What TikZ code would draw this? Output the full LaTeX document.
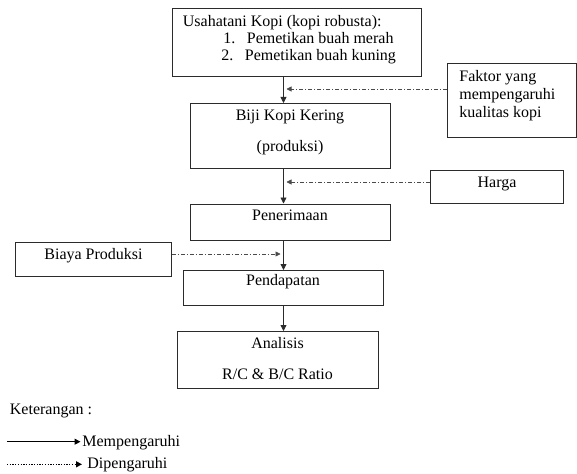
\documentclass[tikz,border=0pt]{standalone}
\usepackage{fontspec}
\setmainfont{Liberation Serif}
\usetikzlibrary{arrows.meta}
\definecolor{figink}{HTML}{2B2B2B}
\definecolor{figdash}{HTML}{4A4A4A}

\begin{document}
\begin{tikzpicture}[
  x=1pt, y=-1pt,
  line width=0.8pt, line join=miter,
  >={Triangle[length=6pt, width=6pt]},
  box/.style  = {draw=figink, line width=0.8pt, rectangle, inner sep=0pt,
                 anchor=north west},
  txt/.style  = {font={\fontsize{16}{17}\selectfont}, inner sep=0pt, text=black},
  dep/.style  = {-{Triangle[length=5pt, width=5pt]}, draw=figdash, line width=0.65pt,
                 dash pattern=on 4pt off 2pt on 1pt off 2pt},
  leg/.style  = {->, draw=black, line width=1.1pt}
]
\useasboundingbox (0,0) rectangle (577,473);

% kotak: kolom utama x=283.5
\node[box, minimum width=249pt, minimum height=68pt]   (usaha)    at (172,8)     {};
\node[box, minimum width=200pt, minimum height=65pt]   (biji)     at (190,103)   {};
\node[box, minimum width=200pt, minimum height=36.5pt] (terima)   at (190,203.5) {};
\node[box, minimum width=200pt, minimum height=35pt]   (dapat)    at (183,270)   {};
\node[box, minimum width=201pt, minimum height=56.5pt] (analisis) at (177,331)   {};
% kotak faktor luar
\node[box, minimum width=129pt, minimum height=74pt]   (faktor)   at (447,63)    {};
\node[box, minimum width=133pt, minimum height=33pt]   (harga)    at (430,170)   {};
\node[box, minimum width=156pt, minimum height=34pt]   (biaya)    at (15,242)    {};

% teks di dalam kotak
\node[txt, anchor=north west, align=left] (usaha-t) at (182.5,15)
  {Usahatani Kopi (kopi robusta):\\
   \hspace*{40.5pt}\makebox[23.5pt][l]{1.}Pemetikan buah merah\\
   \hspace*{38.5pt}\makebox[23.5pt][l]{2.}Pemetikan buah kuning};
\node[txt, anchor=north, align=center] (biji-t) at (290,109.5)
  {Biji Kopi Kering\\[14pt](produksi)};
\node[txt, anchor=base] (terima-t) at (290,220.5) {Penerimaan};
\node[txt, anchor=base] (dapat-t)  at (283,285)   {Pendapatan};
\node[txt, anchor=north, align=center] (analisis-t) at (277.5,337.4)
  {Analisis\\[14pt]R/C \& B/C Ratio};
\node[txt, anchor=north west, align=left, font={\fontsize{16}{18}\selectfont}]
  (faktor-t) at (459,70) {Faktor yang\\mempengaruhi\\kualitas kopi};
\node[txt, anchor=base] (harga-t)  at (497,187.5) {Harga};
\node[txt, anchor=base] (biaya-t)  at (93.5,259.5) {Biaya Produksi};

% alur utama
\coordinate (ax) at (283.5,0);
\draw[->, draw=figink] (usaha.south -| ax)  -- (biji.north -| ax);
\draw[->, draw=figink] (biji.south -| ax)   -- (terima.north -| ax);
\draw[->, draw=figink] (terima.south -| ax) -- (dapat.north -| ax);
\draw[->, draw=figink] (dapat.south -| ax)  -- (analisis.north -| ax);

% pengaruh luar
\coordinate (d1) at (286.5,89);
\coordinate (d2) at (286.5,182);
\coordinate (d3) at (280.5,254);
\draw[dep] (faktor.west |- d1) -- (d1);
\draw[dep] (harga.west |- d2)  -- (d2);
\draw[dep] (biaya.east |- d3)  -- (d3);

% keterangan
\node[txt, anchor=base west] (ket)  at (9.5,414) {Keterangan :};
\node[txt, anchor=base west] (leg1) at (82,446)  {Mempengaruhi};
\node[txt, anchor=base west] (leg2) at (87,468)  {Dipengaruhi};
\coordinate (l1) at (7,441.7);
\coordinate (l2) at (7,464.3);
\draw[leg, shorten >=1.5pt] (l1) -- (leg1.west |- l1);
\draw[leg, shorten >=5pt, line width=1.3pt, dash pattern=on 1.3pt off 1.4pt]
  (l2) -- (leg2.west |- l2);

\end{tikzpicture}
\end{document}
